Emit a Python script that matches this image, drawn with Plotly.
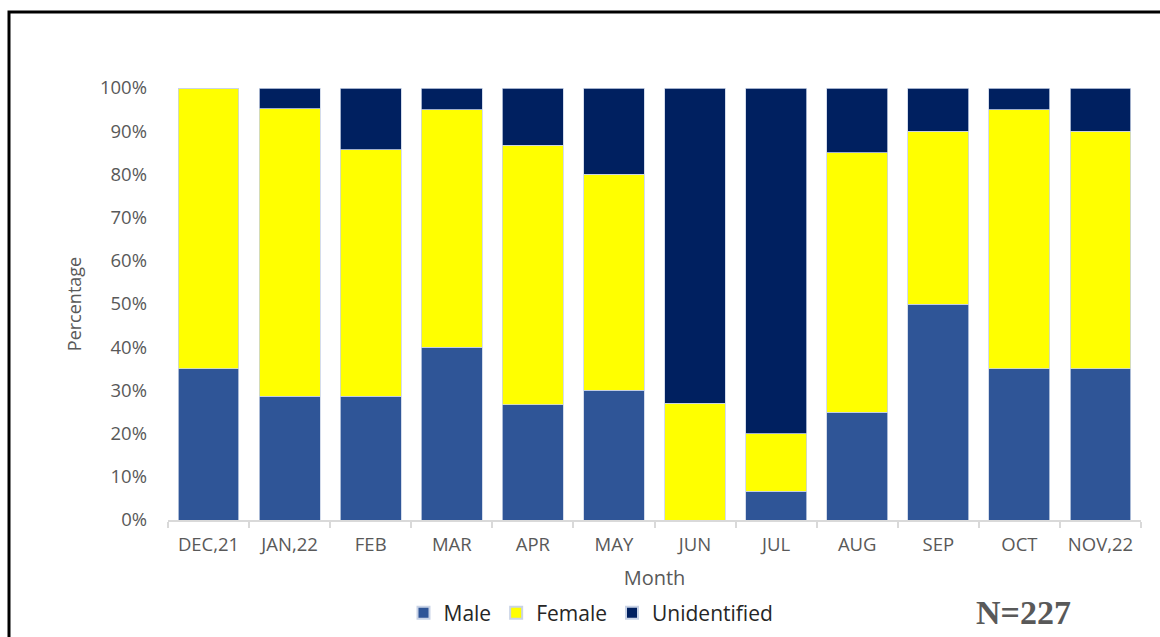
import plotly.graph_objects as go

# Monthly sex distribution of cases (share of each month's total)
months = ["DEC,21", "JAN,22", "FEB", "MAR", "APR", "MAY", "JUN", "JUL", "AUG", "SEP", "OCT", "NOV,22"]
male = [0.35, 0.286, 0.286, 0.40, 0.267, 0.30, 0.0, 0.067, 0.25, 0.50, 0.35, 0.35]
female = [0.65, 0.666, 0.571, 0.55, 0.60, 0.50, 0.27, 0.133, 0.60, 0.40, 0.60, 0.55]
unidentified = [0.0, 0.048, 0.143, 0.05, 0.133, 0.20, 0.73, 0.80, 0.15, 0.10, 0.05, 0.10]
total_n = 227

FONT = "Open Sans"
GREY = "#595959"

# Plot area placement in pixels (page is 1160 x 637)
W, H = 1160, 637
L, R, T, B = 168, 19, 88, 117
pw, ph = W - L - R, H - T - B


def px_x(x):
    return (x - L) / pw


def px_y(y):
    return (H - B - y) / ph


fig = go.Figure()
series = [("Male", male, "#2F5597"), ("Female", female, "#FFFF00"), ("Unidentified", unidentified, "#002060")]
for name, vals, col in series:
    fig.add_trace(go.Bar(
        x=months, y=vals, name=name,
        marker=dict(color=col, line=dict(color="#C9D3E6", width=0.8)),
    ))

fig.update_layout(
    width=W, height=H,
    barmode="stack", bargap=0.25,
    paper_bgcolor="white", plot_bgcolor="white",
    margin=dict(l=L, r=R, t=T, b=B, autoexpand=False),
    font=dict(family=FONT, color=GREY, size=18),
    showlegend=True,
    legend=dict(
        orientation="h", x=px_x(591), xanchor="center", y=px_y(613), yanchor="middle",
        font=dict(family=FONT, size=21, color="#262626"),
        itemsizing="constant", itemwidth=30, traceorder="normal",
    ),
    xaxis=dict(
        automargin=False,
        showline=True, linecolor="#D9D9D9", linewidth=1.5,
        ticks="outside", tickson="boundaries", ticklen=6, tickcolor="#D9D9D9", tickwidth=1.5,
        tickfont=dict(family=FONT, size=18.5, color=GREY),
        ticklabelstandoff=7,
        title=dict(text="Month", font=dict(family=FONT, size=20, color=GREY), standoff=16),
        showgrid=False,
    ),
    yaxis=dict(
        automargin=False,
        range=[0, 1], tickvals=[i / 10 for i in range(11)], tickformat=".0%",
        showgrid=False, zeroline=False, showline=False, ticks="",
        tickfont=dict(family=FONT, size=18.5, color=GREY),
        ticklabelstandoff=20,
        title=dict(text="Percentage", font=dict(family=FONT, size=18, color=GREY), standoff=13),
    ),
)

# Sample size note
fig.add_annotation(
    text=f"<b>N={total_n}</b>", xref="paper", yref="paper",
    x=px_x(1023), y=px_y(612), xanchor="center", yanchor="middle",
    showarrow=False, font=dict(family="Liberation Serif", size=34, color=GREY),
)

# Black frame around the figure (left and top edges visible)
fig.add_shape(
    type="path", xref="paper", yref="paper",
    path=f"M {px_x(9)} {px_y(645)} L {px_x(9)} {px_y(12)} L {px_x(1170)} {px_y(12)}",
    line=dict(color="black", width=3),
)

fig.write_html("out.html")
